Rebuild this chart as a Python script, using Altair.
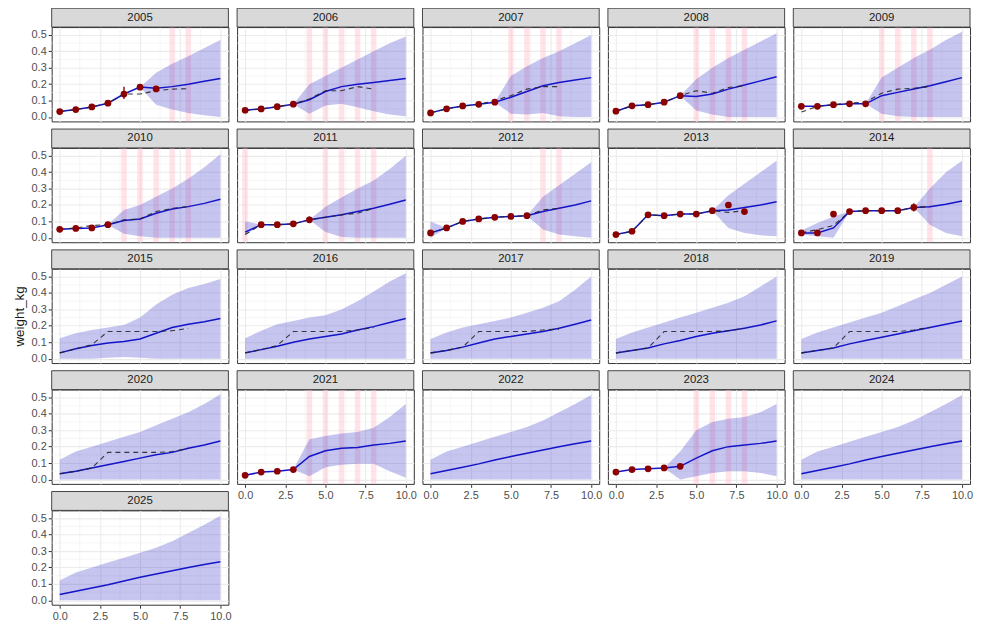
import altair as alt
import pandas as pd

YEARS = list(range(2005, 2026))
AGES = [0, 1, 2, 3, 4, 5, 6, 7, 8, 9, 10]

X_TICKS = [0, 2.5, 5, 7.5, 10]
Y_TICKS = [0.0, 0.1, 0.2, 0.3, 0.4, 0.5]
X_MINOR = [1.25, 3.75, 6.25, 8.75]
Y_MINOR = [0.05, 0.15, 0.25, 0.35, 0.45]

# projected median weight (blue line) at ages 0..10
MID = {
    2005: [0.033, 0.045, 0.061, 0.084, 0.140, 0.182, 0.175, 0.185, 0.200, 0.218, 0.235],
    2006: [0.041, 0.049, 0.063, 0.078, 0.105, 0.155, 0.185, 0.200, 0.210, 0.222, 0.235],
    2007: [0.025, 0.050, 0.067, 0.077, 0.090, 0.120, 0.155, 0.190, 0.210, 0.225, 0.240],
    2008: [0.035, 0.068, 0.075, 0.090, 0.130, 0.125, 0.140, 0.170, 0.195, 0.220, 0.245],
    2009: [0.065, 0.065, 0.075, 0.080, 0.080, 0.130, 0.150, 0.170, 0.190, 0.215, 0.240],
    2010: [0.052, 0.057, 0.060, 0.080, 0.105, 0.115, 0.150, 0.175, 0.190, 0.210, 0.235],
    2011: [0.035, 0.080, 0.080, 0.085, 0.110, 0.125, 0.140, 0.160, 0.180, 0.205, 0.230],
    2012: [0.030, 0.060, 0.100, 0.115, 0.125, 0.130, 0.135, 0.160, 0.180, 0.200, 0.225],
    2013: [0.020, 0.040, 0.140, 0.135, 0.145, 0.145, 0.165, 0.170, 0.185, 0.200, 0.220],
    2014: [0.030, 0.030, 0.060, 0.160, 0.165, 0.165, 0.165, 0.185, 0.190, 0.205, 0.225],
    2015: [0.035, 0.060, 0.080, 0.095, 0.105, 0.120, 0.155, 0.190, 0.210, 0.225, 0.245],
    2016: [0.035, 0.055, 0.075, 0.100, 0.120, 0.135, 0.150, 0.175, 0.195, 0.220, 0.245],
    2017: [0.035, 0.050, 0.070, 0.095, 0.120, 0.135, 0.150, 0.165, 0.185, 0.210, 0.235],
    2018: [0.035, 0.050, 0.065, 0.090, 0.110, 0.135, 0.155, 0.170, 0.185, 0.205, 0.230],
    2019: [0.035, 0.050, 0.065, 0.090, 0.110, 0.130, 0.150, 0.170, 0.190, 0.210, 0.230],
    2020: [0.035, 0.050, 0.070, 0.090, 0.110, 0.130, 0.150, 0.165, 0.190, 0.210, 0.235],
    2021: [0.025, 0.045, 0.050, 0.060, 0.140, 0.175, 0.190, 0.195, 0.210, 0.220, 0.235],
    2022: [0.035, 0.055, 0.075, 0.095, 0.118, 0.140, 0.160, 0.180, 0.200, 0.218, 0.235],
    2023: [0.045, 0.060, 0.065, 0.070, 0.080, 0.130, 0.175, 0.200, 0.210, 0.220, 0.235],
    2024: [0.035, 0.055, 0.075, 0.095, 0.118, 0.140, 0.160, 0.180, 0.200, 0.218, 0.235],
    2025: [0.035, 0.055, 0.075, 0.095, 0.118, 0.140, 0.160, 0.180, 0.200, 0.218, 0.235],
}

# upper edge of the projection band
HI = {
    2005: [0.033, 0.045, 0.061, 0.084, 0.140, 0.182, 0.270, 0.325, 0.370, 0.420, 0.470],
    2006: [0.041, 0.049, 0.063, 0.078, 0.200, 0.250, 0.300, 0.350, 0.400, 0.450, 0.490],
    2007: [0.025, 0.050, 0.067, 0.077, 0.090, 0.250, 0.310, 0.360, 0.400, 0.450, 0.500],
    2008: [0.035, 0.068, 0.075, 0.090, 0.130, 0.230, 0.300, 0.360, 0.410, 0.460, 0.510],
    2009: [0.065, 0.065, 0.075, 0.080, 0.080, 0.240, 0.300, 0.360, 0.410, 0.470, 0.520],
    2010: [0.052, 0.057, 0.060, 0.080, 0.170, 0.200, 0.250, 0.300, 0.360, 0.430, 0.510],
    2011: [0.100, 0.080, 0.080, 0.085, 0.110, 0.190, 0.245, 0.300, 0.350, 0.420, 0.500],
    2012: [0.100, 0.060, 0.100, 0.115, 0.125, 0.130, 0.135, 0.250, 0.320, 0.390, 0.460],
    2013: [0.020, 0.040, 0.140, 0.135, 0.145, 0.145, 0.165, 0.260, 0.330, 0.400, 0.470],
    2014: [0.045, 0.090, 0.130, 0.160, 0.165, 0.165, 0.165, 0.185, 0.300, 0.400, 0.470],
    2015: [0.125, 0.155, 0.175, 0.190, 0.205, 0.250, 0.330, 0.390, 0.430, 0.455, 0.485],
    2016: [0.125, 0.170, 0.210, 0.230, 0.250, 0.265, 0.300, 0.350, 0.410, 0.470, 0.520],
    2017: [0.120, 0.160, 0.190, 0.210, 0.230, 0.250, 0.280, 0.310, 0.350, 0.420, 0.500],
    2018: [0.120, 0.160, 0.190, 0.220, 0.250, 0.280, 0.310, 0.340, 0.380, 0.440, 0.500],
    2019: [0.120, 0.160, 0.190, 0.220, 0.250, 0.280, 0.320, 0.360, 0.400, 0.450, 0.500],
    2020: [0.120, 0.170, 0.200, 0.230, 0.260, 0.290, 0.330, 0.370, 0.410, 0.460, 0.520],
    2021: [0.025, 0.045, 0.050, 0.060, 0.245, 0.265, 0.280, 0.290, 0.315, 0.380, 0.460],
    2022: [0.120, 0.170, 0.200, 0.230, 0.260, 0.290, 0.320, 0.360, 0.410, 0.460, 0.515],
    2023: [0.045, 0.060, 0.065, 0.070, 0.170, 0.300, 0.350, 0.370, 0.380, 0.410, 0.460],
    2024: [0.120, 0.170, 0.200, 0.230, 0.260, 0.290, 0.320, 0.360, 0.410, 0.460, 0.515],
    2025: [0.120, 0.170, 0.200, 0.230, 0.260, 0.290, 0.320, 0.360, 0.410, 0.460, 0.515],
}

# lower edge of the projection band
LO = {
    2005: [0.033, 0.045, 0.061, 0.084, 0.140, 0.182, 0.075, 0.045, 0.025, 0.010, 0.000],
    2006: [0.041, 0.049, 0.063, 0.078, 0.020, 0.070, 0.080, 0.060, 0.035, 0.015, 0.005],
    2007: [0.025, 0.050, 0.067, 0.077, 0.090, 0.020, 0.015, 0.025, 0.005, 0.000, 0.000],
    2008: [0.035, 0.068, 0.075, 0.090, 0.130, 0.040, 0.015, 0.000, 0.000, 0.000, 0.000],
    2009: [0.065, 0.065, 0.075, 0.080, 0.080, 0.020, 0.005, 0.000, 0.000, 0.000, 0.000],
    2010: [0.052, 0.057, 0.060, 0.080, 0.025, 0.010, 0.000, 0.000, 0.000, 0.000, 0.000],
    2011: [0.015, 0.080, 0.080, 0.085, 0.110, 0.035, 0.005, 0.000, 0.000, 0.000, 0.000],
    2012: [0.000, 0.060, 0.100, 0.115, 0.125, 0.130, 0.135, 0.050, 0.020, 0.010, 0.000],
    2013: [0.020, 0.040, 0.140, 0.135, 0.145, 0.145, 0.165, 0.060, 0.030, 0.015, 0.010],
    2014: [0.020, 0.010, 0.000, 0.160, 0.165, 0.165, 0.165, 0.185, 0.080, 0.030, 0.010],
    2015: [0.000, 0.000, 0.000, 0.005, 0.010, 0.005, 0.000, 0.000, 0.000, 0.000, 0.000],
    2016: [0.000, 0.000, 0.000, 0.000, 0.000, 0.000, 0.000, 0.000, 0.000, 0.000, 0.000],
    2017: [0.000, 0.000, 0.000, 0.000, 0.000, 0.000, 0.000, 0.000, 0.000, 0.000, 0.000],
    2018: [0.000, 0.000, 0.000, 0.000, 0.000, 0.000, 0.000, 0.000, 0.000, 0.000, 0.000],
    2019: [0.000, 0.000, 0.000, 0.000, 0.000, 0.000, 0.000, 0.000, 0.000, 0.000, 0.000],
    2020: [0.000, 0.000, 0.000, 0.000, 0.000, 0.000, 0.000, 0.000, 0.000, 0.000, 0.000],
    2021: [0.025, 0.045, 0.050, 0.060, 0.020, 0.075, 0.090, 0.095, 0.095, 0.050, 0.010],
    2022: [0.000, 0.000, 0.000, 0.000, 0.000, 0.000, 0.000, 0.000, 0.000, 0.000, 0.000],
    2023: [0.045, 0.060, 0.065, 0.070, 0.000, 0.020, 0.040, 0.050, 0.050, 0.040, 0.020],
    2024: [0.000, 0.000, 0.000, 0.000, 0.000, 0.000, 0.000, 0.000, 0.000, 0.000, 0.000],
    2025: [0.000, 0.000, 0.000, 0.000, 0.000, 0.000, 0.000, 0.000, 0.000, 0.000, 0.000],
}

# observed weights (dark red points): (age, weight)
OBS = {
    2005: [(0, 0.033), (1, 0.045), (2, 0.061), (3, 0.084), (4, 0.140), (5, 0.182), (6, 0.171)],
    2006: [(0, 0.041), (1, 0.049), (2, 0.063), (3, 0.078)],
    2007: [(0, 0.025), (1, 0.050), (2, 0.067), (3, 0.077), (4, 0.090)],
    2008: [(0, 0.035), (1, 0.068), (2, 0.075), (3, 0.090), (4, 0.130)],
    2009: [(0, 0.065), (1, 0.065), (2, 0.075), (3, 0.080), (4, 0.080)],
    2010: [(0, 0.052), (1, 0.057), (2, 0.060), (3, 0.080)],
    2011: [(1, 0.080), (2, 0.080), (3, 0.085), (4, 0.110)],
    2012: [(0, 0.030), (1, 0.060), (2, 0.100), (3, 0.115), (4, 0.125), (5, 0.130), (6, 0.135)],
    2013: [(0, 0.020), (1, 0.040), (2, 0.140), (3, 0.135), (4, 0.145), (5, 0.145), (6, 0.165),
           (7, 0.200), (8, 0.160)],
    2014: [(0, 0.030), (1, 0.030), (2, 0.145), (3, 0.160), (4, 0.165), (5, 0.165), (6, 0.165),
           (7, 0.185)],
    2021: [(0, 0.025), (1, 0.045), (2, 0.050), (3, 0.060)],
    2023: [(0, 0.045), (1, 0.060), (2, 0.065), (3, 0.070), (4, 0.080)],
}

# error bars on observations: (age, low, high)
ERR = {
    2005: [(4, 0.110, 0.185)],
    2009: [(0, 0.050, 0.080)],
    2011: [(4, 0.090, 0.130)],
    2014: [(7, 0.160, 0.210)],
}

# dashed reference line at ages 0..8
DASH_AGES = [0, 1, 2, 3, 4, 5, 6, 7, 8]
DASH = {
    2005: [0.033, 0.045, 0.061, 0.084, 0.140, 0.140, 0.160, 0.170, 0.172],
    2006: [0.041, 0.049, 0.063, 0.078, 0.110, 0.160, 0.160, 0.185, 0.170],
    2007: [0.025, 0.050, 0.067, 0.077, 0.100, 0.130, 0.170, 0.185, 0.185],
    2008: [0.035, 0.068, 0.075, 0.090, 0.130, 0.160, 0.145, 0.180, 0.190],
    2009: [0.030, 0.065, 0.075, 0.085, 0.090, 0.145, 0.170, 0.175, 0.185],
    2010: [0.052, 0.060, 0.075, 0.080, 0.110, 0.115, 0.160, 0.180, 0.190],
    2011: [0.020, 0.080, 0.080, 0.085, 0.110, 0.125, 0.140, 0.150, 0.180],
    2012: [0.030, 0.060, 0.100, 0.115, 0.125, 0.130, 0.135, 0.170, 0.180],
    2013: [0.020, 0.040, 0.140, 0.135, 0.145, 0.145, 0.165, 0.155, 0.165],
    2014: [0.030, 0.050, 0.075, 0.160, 0.165, 0.165, 0.165, 0.185, 0.190],
    2015: [0.035, 0.060, 0.085, 0.165, 0.165, 0.165, 0.165, 0.170, 0.185],
    2016: [0.035, 0.055, 0.080, 0.165, 0.165, 0.165, 0.165, 0.175, 0.190],
    2017: [0.035, 0.050, 0.070, 0.165, 0.165, 0.165, 0.165, 0.175, 0.180],
    2018: [0.035, 0.050, 0.065, 0.165, 0.165, 0.165, 0.165, 0.170, 0.185],
    2019: [0.035, 0.050, 0.065, 0.165, 0.165, 0.165, 0.165, 0.175, 0.190],
    2020: [0.035, 0.050, 0.070, 0.165, 0.165, 0.165, 0.165, 0.170, 0.190],
}

# highlighted ages (pink vertical bands)
PINK = {
    2005: [7, 8],
    2006: [4, 5, 6, 7, 8],
    2007: [5, 6, 7, 8],
    2008: [5, 6, 7, 8],
    2009: [5, 6, 7, 8],
    2010: [4, 5, 6, 7, 8],
    2011: [0, 5, 6, 7, 8],
    2012: [7, 8],
    2014: [8],
    2021: [4, 5, 6, 7, 8],
    2023: [5, 6, 7, 8],
}

# ---------------- layout / style ----------------
W, H = 178, 95
STRIP = 19
FONT = "Liberation Sans"
X_DOMAIN = [-0.5, 10.5]
Y_DOMAIN = [-0.027, 0.548]


def panel(yr, idx):
    col = idx % 5
    bottom = yr >= 2021
    left = col == 0
    xsc = alt.Scale(domain=X_DOMAIN, nice=False, zero=False)
    ysc = alt.Scale(domain=Y_DOMAIN, nice=False, zero=False)
    xax = alt.Axis(values=X_TICKS, format=".1f", labels=bottom, ticks=bottom,
                   domain=False, title=None, grid=True, labelFlush=False)
    yax = alt.Axis(values=Y_TICKS, format=".1f", labels=left, ticks=left,
                   domain=False, grid=True,
                   title=("weight_kg" if yr == 2015 else None))

    def X(f="age"):
        return alt.X(f"{f}:Q", scale=xsc, axis=xax)

    def Y(f):
        return alt.Y(f"{f}:Q", scale=ysc, axis=yax)

    layers = []
    gx = pd.DataFrame({"age": X_MINOR})
    gy = pd.DataFrame({"w": Y_MINOR})
    layers.append(alt.Chart(gx).mark_rule(color="#efefef", strokeWidth=0.6).encode(x=X()))
    layers.append(alt.Chart(gy).mark_rule(color="#efefef", strokeWidth=0.6).encode(y=Y("w")))

    if yr in PINK:
        pk = pd.DataFrame({"age": PINK[yr]})
        layers.append(alt.Chart(pk).mark_rule(color="#ffc0cb", strokeWidth=5.5, opacity=0.45)
                      .encode(x=X()))

    proj = pd.DataFrame({"age": AGES, "mid": MID[yr], "lo": LO[yr], "hi": HI[yr]})
    layers.append(alt.Chart(proj).mark_area(color="#2a2ac8", opacity=0.27)
                  .encode(x=X(), y=Y("lo"), y2=alt.Y2("hi:Q")))
    layers.append(alt.Chart(proj).mark_line(color="#1414c8", strokeWidth=1.5)
                  .encode(x=X(), y=Y("mid")))

    if yr in DASH:
        dd = pd.DataFrame({"age": DASH_AGES, "w": DASH[yr]})
        layers.append(alt.Chart(dd).mark_line(color="#262626", strokeWidth=1.1,
                                               strokeDash=[5, 4], opacity=0.9)
                      .encode(x=X(), y=Y("w")))

    if yr in OBS:
        od = pd.DataFrame(OBS[yr], columns=["age", "w"])
        layers.append(alt.Chart(od).mark_circle(color="#8b0000", size=46, opacity=1)
                      .encode(x=X(), y=Y("w")))

    if yr in ERR:
        ed = pd.DataFrame(ERR[yr], columns=["age", "elo", "ehi"])
        layers.append(alt.Chart(ed).mark_rule(color="#8b0000", strokeWidth=1.4)
                      .encode(x=X(), y=Y("elo"), y2=alt.Y2("ehi:Q")))

    sd = pd.DataFrame({"year": [str(yr)]})
    layers.append(alt.Chart(sd).mark_rect(fill="#d9d9d9", stroke="#333333", strokeWidth=0.9)
                  .encode(x=alt.value(0), x2=alt.value(W),
                          y=alt.value(-STRIP), y2=alt.value(0)))
    layers.append(alt.Chart(sd).mark_text(font=FONT, fontSize=11.5, color="#1a1a1a",
                                          baseline="middle", align="center")
                  .encode(x=alt.value(W / 2), y=alt.value(-STRIP / 2), text="year:N"))

    return alt.layer(*layers).properties(width=W, height=H)


panels = [panel(yr, i) for i, yr in enumerate(YEARS)]

chart = (
    alt.concat(*panels, columns=5, spacing={"row": 26.7, "column": 8.75}, bounds="flush")
    .properties(padding={"left": 3, "top": -3, "right": 0, "bottom": 0})
    .configure_view(stroke="#333333", strokeWidth=1)
    .configure_axis(labelFont=FONT, labelFontSize=11, labelColor="#4d4d4d",
                    tickColor="#333333", tickSize=3.5, tickWidth=1, labelPadding=2,
                    gridColor="#ebebeb", gridWidth=1.1,
                    titleFont=FONT, titleFontSize=13.5, titleFontWeight="normal",
                    titleColor="#1a1a1a", titlePadding=5)
)

chart.save("out.html", embed_options={"renderer": "svg", "actions": False})
